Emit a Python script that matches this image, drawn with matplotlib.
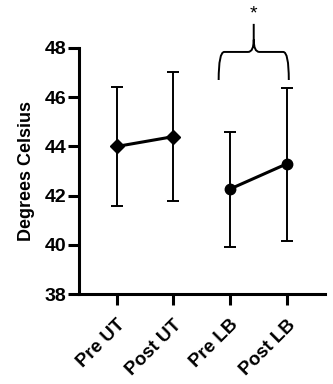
import matplotlib
matplotlib.use('Agg')
import matplotlib.pyplot as plt
from matplotlib.path import Path
import matplotlib.patches as mpatches

plt.rcParams['font.family'] = ['Liberation Sans', 'DejaVu Sans']

# Data
groups = ['Pre UT', 'Post UT', 'Pre LB', 'Post LB']
means = [44.0, 44.4, 42.27, 43.29]
upper = [46.4, 47.03, 44.6, 46.37]
lower = [41.6, 41.77, 39.9, 40.15]
markers = ['D', 'D', 'o', 'o']
pairs = [(0, 1), (2, 3)]

fig = plt.figure(figsize=(3.33, 3.84), dpi=100)
ax = fig.add_axes([0.237, 0.234, 0.739, 0.641])

x = list(range(len(groups)))
for a, b in pairs:
    ax.plot([x[a], x[b]], [means[a], means[b]], color='black', lw=2.2, zorder=2)
for i in x:
    ax.errorbar(x[i], means[i], yerr=[[means[i] - lower[i]], [upper[i] - means[i]]],
                fmt=markers[i], color='black', ms=7.5, capsize=4.5, elinewidth=1.4,
                capthick=1.4, zorder=3)

ax.set_ylim(38, 48)
ax.set_xlim(-0.67, 3.68)
ax.set_yticks([38, 40, 42, 44, 46, 48])
ax.set_xticks(x)
ax.set_xticklabels(groups, rotation=45, ha='right', rotation_mode='anchor',
                   fontsize=13.5, fontweight='bold')
for lab in ax.get_yticklabels():
    lab.set_fontweight('bold')
    lab.set_fontsize(14)
ax.set_ylabel('Degrees Celsius', fontsize=13, fontweight='bold', labelpad=7)
for s in ['top', 'right']:
    ax.spines[s].set_visible(False)
for s in ['left', 'bottom']:
    ax.spines[s].set_linewidth(2.2)
ax.tick_params(width=2.2, length=8)
ax.tick_params(axis='y', pad=1)
ax.tick_params(axis='x', pad=8)

# Curly brace over LB pair
x0, x1 = 1.8, 3.04
xm = (x0 + x1) / 2
ylow, ytop, ypeak = 46.7, 47.84, 48.98
rx, ry = 0.1, 0.5
verts = [
    (x0, ylow), (x0, ytop), (x0 + rx, ytop),
    (xm - rx, ytop), (xm, ytop), (xm, ytop + ry),
    (xm, ypeak),
    (xm, ytop + ry), (xm, ytop), (xm + rx, ytop),
    (x1 - rx, ytop), (x1, ytop), (x1, ylow),
]
codes = [Path.MOVETO, Path.CURVE3, Path.CURVE3,
         Path.LINETO, Path.CURVE3, Path.CURVE3,
         Path.LINETO,
         Path.MOVETO, Path.CURVE3, Path.CURVE3,
         Path.LINETO, Path.CURVE3, Path.CURVE3]
brace = mpatches.PathPatch(Path(verts, codes), facecolor='none', edgecolor='black',
                           lw=1.4, clip_on=False, transform=ax.transData)
ax.add_patch(brace)
ax.text(xm, 49.05, '*', ha='center', va='bottom', fontsize=14, clip_on=False)

fig.savefig('out.png', dpi=100)
